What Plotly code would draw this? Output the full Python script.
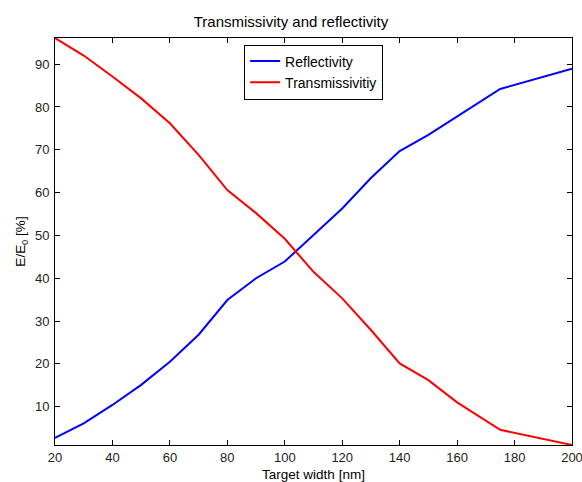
import plotly.graph_objects as go

# Target width in nm
width_nm = [20, 30, 40, 50, 60, 70, 80, 90, 100, 110, 120, 130, 140, 150, 160, 175, 200]

# Energy fractions E/E0 in percent
reflectivity = [2.7, 6.1, 10.4, 15.1, 20.5, 26.8, 34.9, 40.0, 43.9, 50.1, 56.3, 63.4, 69.7, 73.5, 77.8, 84.2, 88.9]
transmissivity = [96.1, 92.0, 87.1, 82.0, 76.2, 68.8, 60.6, 55.2, 49.2, 41.5, 35.3, 27.9, 20.1, 16.2, 11.0, 4.6, 1.05]

x_ticks = list(range(20, 201, 20))
y_ticks = list(range(10, 91, 10))

font_family = "Liberation Sans, Arial, Helvetica, sans-serif"

fig = go.Figure()
fig.add_trace(go.Scatter(x=width_nm, y=reflectivity, mode="lines", name="Reflectivity",
                         line=dict(color="#0000ff", width=2)))
fig.add_trace(go.Scatter(x=width_nm, y=transmissivity, mode="lines", name="Transmissivitiy",
                         line=dict(color="#ff0000", width=2)))

all_vals = reflectivity + transmissivity
axis_common = dict(
    showgrid=False, zeroline=False, showline=True, linecolor="black", linewidth=1,
    mirror="ticks", ticks="inside", ticklen=5, tickcolor="black",
    tickfont=dict(size=13, color="#222", family=font_family),
    ticklabeloverflow="allow",
)

fig.update_layout(
    width=582, height=482,
    margin=dict(l=55, r=10, t=38, b=37),
    paper_bgcolor="white", plot_bgcolor="white",
    font=dict(family=font_family, size=13, color="black"),
    title=dict(text="Transmissivity and reflectivity", x=0.5, xanchor="center",
               y=1 - 22 / 482, yanchor="middle", font=dict(size=15)),
    xaxis=dict(range=[min(width_nm), max(width_nm)], tickvals=x_ticks,
               ticklabelstandoff=0, automargin=False,
               title=dict(text="Target width [nm]", font=dict(size=13.5)),
               **axis_common),
    yaxis=dict(range=[min(all_vals), max(all_vals)], tickvals=y_ticks,
               ticklabelstandoff=2, automargin=True,
               title=dict(text="E/E<sub>0</sub> [%]", standoff=6, font=dict(size=13.5)),
               **axis_common),
    legend=dict(x=(244 - 55) / 516.7, y=(445 - 44.5) / 407, xanchor="left", yanchor="top",
                bgcolor="white", bordercolor="black", borderwidth=1,
                font=dict(size=14), tracegroupgap=0),
    showlegend=True,
)

fig.write_html("out.html")
